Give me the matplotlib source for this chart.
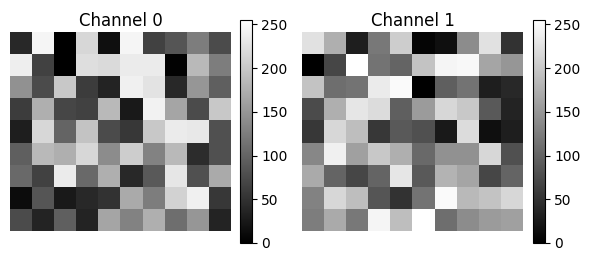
import numpy as np
import matplotlib
matplotlib.use("Agg")
import matplotlib.pyplot as plt

titles = ["Channel 0", "Channel 1"]

channel_0 = [
    [40, 245, 0, 215, 15, 245, 65, 85, 125, 75],
    [238, 65, 0, 222, 218, 235, 235, 2, 185, 125],
    [145, 75, 200, 60, 35, 240, 228, 40, 150, 95],
    [60, 175, 70, 65, 185, 25, 242, 165, 75, 200],
    [30, 215, 100, 195, 75, 55, 200, 235, 232, 80],
    [95, 185, 175, 215, 140, 205, 130, 185, 45, 80],
    [105, 65, 235, 105, 175, 40, 90, 230, 80, 170],
    [12, 85, 25, 40, 50, 170, 125, 210, 240, 55],
    [75, 35, 95, 35, 165, 130, 175, 110, 150, 35],
]

channel_1 = [
    [225, 175, 30, 120, 205, 5, 15, 140, 225, 50],
    [0, 70, 255, 115, 100, 195, 245, 248, 165, 150],
    [195, 110, 115, 235, 250, 0, 95, 115, 30, 40],
    [75, 175, 230, 220, 95, 155, 215, 200, 90, 35],
    [55, 215, 190, 55, 90, 80, 25, 220, 15, 30],
    [135, 240, 160, 200, 175, 105, 145, 145, 215, 80],
    [170, 100, 70, 100, 230, 90, 180, 165, 70, 100],
    [130, 215, 190, 85, 50, 115, 250, 185, 195, 215],
    [125, 170, 120, 245, 190, 255, 110, 140, 155, 160],
]

cbar_ticks = [0, 50, 100, 150, 200, 250]

W, H = 589, 261
fig = plt.figure(figsize=(W / 100, H / 100), dpi=100)

img_boxes = [(10, 32, 231, 231), (302, 32, 523, 231)]
cbar_boxes = [(240, 20, 251.5, 243), (533, 20, 544.5, 243)]

def to_frac(box):
    l, t, r, b = box
    return [l / W, (H - b) / H, (r - l) / W, (b - t) / H]

for data, title, ib, cb in zip([channel_0, channel_1], titles, img_boxes, cbar_boxes):
    ax = fig.add_axes(to_frac(ib))
    im = ax.imshow(np.array(data), cmap="gray", vmin=0, vmax=255, aspect="auto")
    ax.set_title(title, fontsize=12, pad=4)
    ax.axis("off")
    cax = fig.add_axes(to_frac(cb))
    cbar = fig.colorbar(im, cax=cax, ticks=cbar_ticks)
    cbar.ax.tick_params(labelsize=10)

fig.savefig("out.png", dpi=100)
